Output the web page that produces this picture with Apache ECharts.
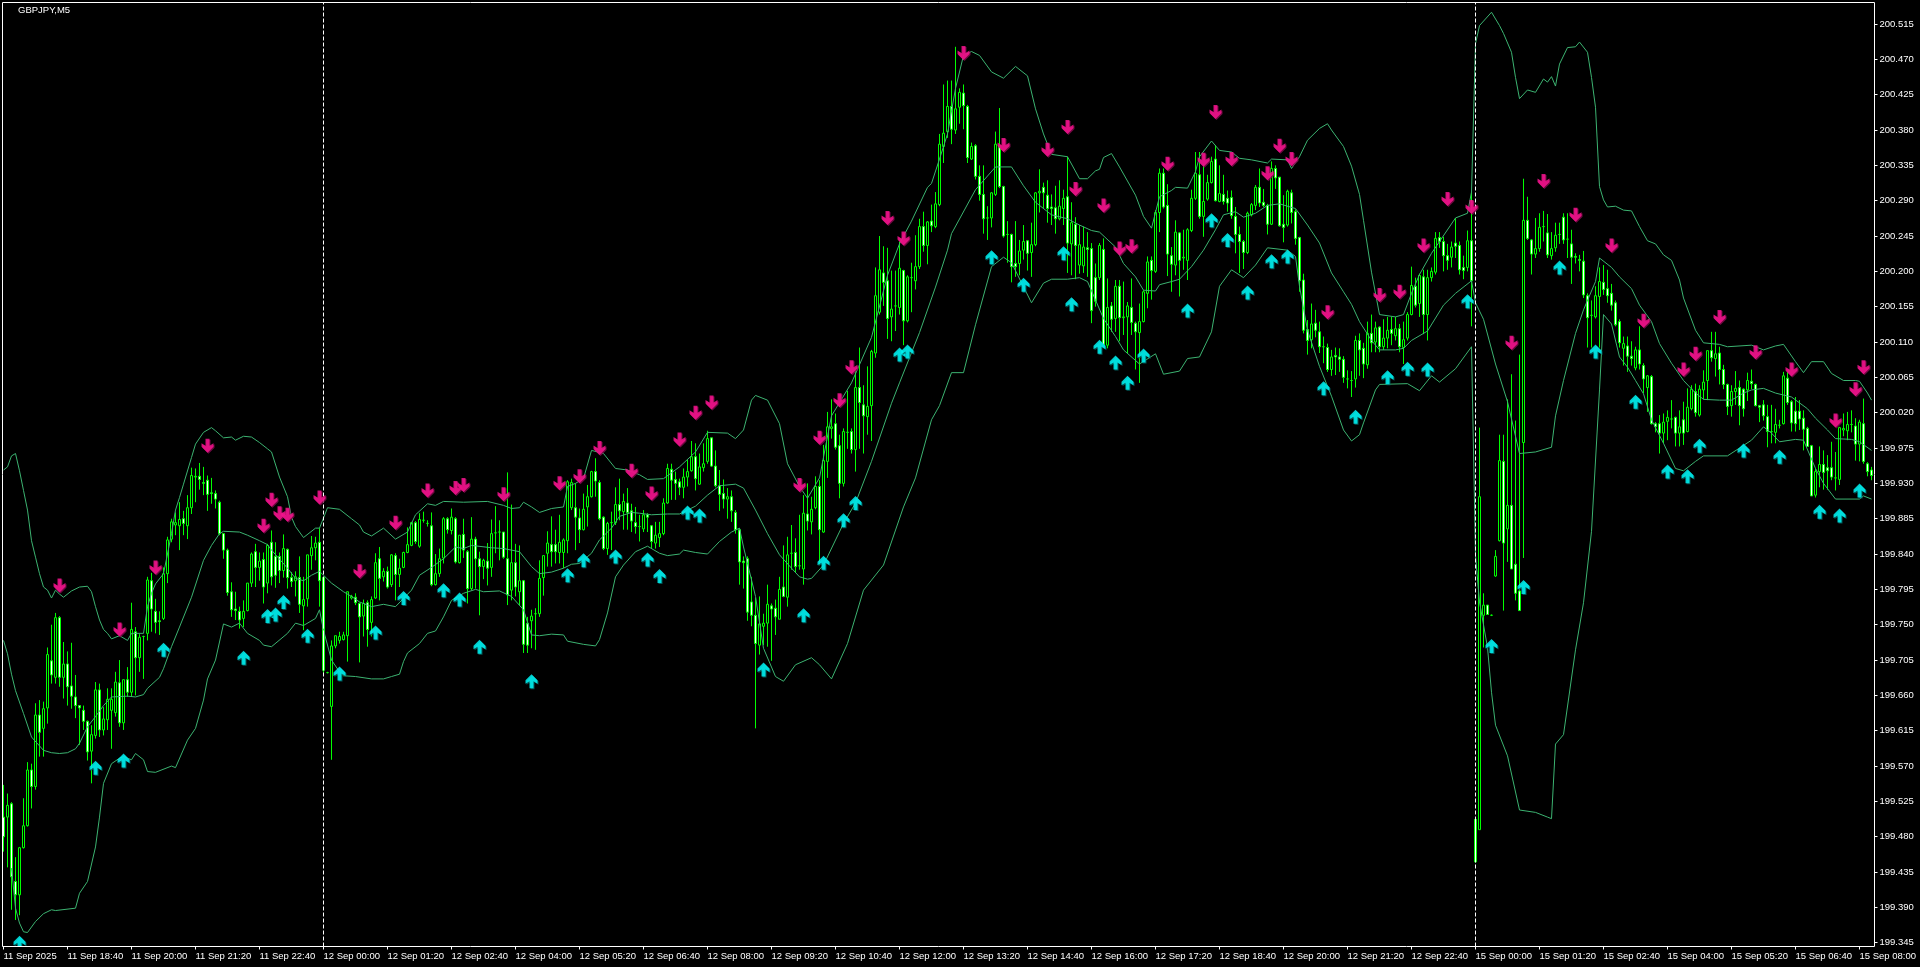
<!DOCTYPE html>
<html>
<head>
<meta charset="utf-8">
<style>html,body{margin:0;padding:0;background:#000}#c{width:1920px;height:967px}</style>
<script src="https://cdn.jsdelivr.net/npm/echarts@6/dist/echarts.min.js"></script>
</head>
<body>
<div id="c"></div>
<script>
const chartTitle = 'GBPJPY,M5';
const tickLabels = ['11 Sep 2025','11 Sep 18:40','11 Sep 20:00','11 Sep 21:20','11 Sep 22:40','12 Sep 00:00','12 Sep 01:20','12 Sep 02:40','12 Sep 04:00','12 Sep 05:20','12 Sep 06:40','12 Sep 08:00','12 Sep 09:20','12 Sep 10:40','12 Sep 12:00','12 Sep 13:20','12 Sep 14:40','12 Sep 16:00','12 Sep 17:20','12 Sep 18:40','12 Sep 20:00','12 Sep 21:20','12 Sep 22:40','15 Sep 00:00','15 Sep 01:20','15 Sep 02:40','15 Sep 04:00','15 Sep 05:20','15 Sep 06:40','15 Sep 08:00'];
const priceTicks = [200.515,200.470,200.425,200.380,200.335,200.290,200.245,200.200,200.155,200.110,200.065,200.020,199.975,199.930,199.885,199.840,199.795,199.750,199.705,199.660,199.615,199.570,199.525,199.480,199.435,199.390,199.345];
const priceMin = 199.3402, priceMax = 200.5424;
const separatorBars = [80, 368];
// Prices in thousandths above 199.000. Rows: [open, high, low, close]
const priceBase = 199;
const bars11Sep = [
[505,546,461,480],[505,535,441,520],[522,524,387,429],[423,454,374,406],[406,467,380,466],[466,529,465,494],[494,575,493,565],[565,573,516,544],[544,650,540,635],[635,654,582,613],
[618,652,582,643],[644,721,624,712],[704,750,675,686],[683,765,675,759],[759,761,671,683],[683,728,656,700],[700,716,647,671],[672,727,643,659],[658,686,631,647],[647,647,597,644],
[641,647,616,627],[627,628,577,588],[589,622,548,610],[609,677,605,667],[667,675,607,616],[616,645,609,630],[629,669,616,655],[641,669,592,655],[638,690,633,677],[676,705,620,625],
[625,680,616,680],[680,696,658,664],[664,778,658,744],[741,747,660,708],[708,738,690,734],[735,736,681,735],[739,811,730,807],[806,816,741,770],[767,783,739,753],[755,767,737,754],
[758,823,756,815],[815,862,803,858],[859,885,855,881],[877,893,864,880],[876,906,845,884],[885,895,864,879],[876,915,859,899],[899,950,891,940],[938,949,906,939],[939,956,922,935],
[931,951,915,930],[934,940,895,916],[918,937,904,917],[917,921,898,910],[906,908,864,866],[866,866,834,845],[845,847,787,791],[792,804,760,769],[770,792,756,768],[767,773,745,756],
[758,781,747,767],[768,803,767,803],[803,842,798,840],[843,853,798,823],[823,842,806,831],[833,842,777,798],[803,853,790,851],[855,870,800,811],[837,855,797,813],[837,842,803,819],
[819,865,810,847],[846,847,796,810],[810,817,798,805],[806,818,786,811],[810,837,765,776],[774,811,743,782],[783,839,773,839],[838,863,820,848],[848,862,832,854],[855,873,773,806]];
const bars12SepMorning = [
[810,811,686,692],[689,690,688,689],[646,730,578,723],[723,736,720,736],[730,741,726,735],[731,741,730,737],[736,792,703,792],[784,788,782,786],[785,790,775,778],[777,778,702,760],
[761,782,735,777],[778,781,722,744],[753,786,735,782],[784,841,783,829],[834,849,781,809],[811,822,805,818],[818,824,796,798],[801,840,798,839],[838,841,781,814],[814,834,798,822],
[823,843,822,842],[842,874,841,852],[851,881,850,880],[880,882,853,856],[850,892,848,884],[883,894,880,883],[879,883,875,879],[876,893,799,801],[801,840,800,815],[815,847,811,834],
[835,887,828,885],[885,887,866,871],[870,898,865,887],[885,887,828,830],[829,864,828,864],[865,885,835,845],[843,845,777,796],[796,887,794,859],[859,862,796,834],[834,843,762,824],
[824,834,808,832],[831,854,800,822],[823,884,811,866],[867,901,841,867],[868,883,832,868],[868,868,834,836],[834,944,775,788],[794,903,781,829],[829,853,786,798],[792,851,775,806],
[806,807,714,725],[752,760,714,724],[755,769,720,761],[764,771,718,764],[764,832,760,809],[810,838,787,838],[841,869,824,854],[852,888,824,843],[852,871,828,843],[842,890,828,855],
[842,860,822,858],[857,934,841,932],[899,936,896,931],[899,930,845,887],[886,898,854,871],[871,917,870,897],[900,928,875,913],[913,946,912,945],[945,962,913,933],[931,934,883,885],
[887,888,845,847],[847,881,839,879],[880,894,845,880],[880,925,877,903],[903,936,883,895],[894,917,871,907],[905,924,871,893],[895,904,868,882],[880,900,866,875],[875,890,856,875],
[872,896,868,890],[890,892,868,887],[876,877,847,856],[854,881,847,864],[861,881,849,866],[866,911,864,905],[905,955,904,949],[948,955,909,934],[935,945,909,930],[932,936,915,925],
[925,949,911,938],[938,960,926,945],[946,984,945,964],[964,981,921,936],[929,968,928,951],[950,981,945,955],[958,997,955,987],[988,988,951,952],[952,972,925,927],[927,947,895,916],
[917,935,898,910],[910,924,885,913],[913,921,881,895],[893,896,866,871],[871,873,801,830],[831,837,796,829],[834,837,755,766],[779,811,748,762],[762,784,618,726],[724,786,712,751],
[748,764,724,752],[752,801,722,776],[774,777,704,770],[771,782,737,760],[757,811,757,795],[798,851,785,786],[785,862,773,839],[841,877,820,841],[842,860,816,824],[825,890,820,825],
[821,915,801,892],[891,930,870,882],[881,913,865,897],[899,939,897,926],[926,934,826,871],[868,979,867,959],[958,1021,937,1002],[1000,1037,987,1002],[1006,1019,973,976],[978,992,911,930],
[930,1000,926,996],[995,1048,974,995],[996,1000,968,973],[973,1074,945,1052],[1052,1103,974,1033],[1030,1055,968,1016],[1015,1079,992,1028],[1029,1100,984,1098],[1096,1205,1090,1169],[1148,1245,1145,1202],
[1198,1232,1156,1186],[1188,1230,1114,1140],[1142,1201,1111,1152],[1156,1201,1124,1156]];
const bars12SepAfternoon = [
[1154,1238,1145,1204],[1201,1202,1106,1137],[1137,1195,1135,1193],[1192,1211,1148,1192],[1188,1246,1177,1206],[1206,1267,1203,1257],[1257,1276,1225,1233],[1233,1264,1209,1263],[1264,1285,1250,1258],[1257,1301,1255,1286],
[1285,1375,1283,1362],[1359,1438,1338,1376],[1378,1443,1370,1410],[1410,1443,1362,1381],[1380,1486,1375,1407],[1409,1433,1388,1428],[1427,1438,1381,1411],[1410,1412,1338,1345],[1343,1364,1342,1359],[1360,1362,1317,1321],
[1321,1335,1290,1298],[1298,1335,1248,1267],[1268,1283,1240,1268],[1268,1301,1256,1300],[1298,1378,1296,1362],[1360,1408,1306,1308],[1308,1309,1243,1245],[1247,1264,1211,1247],[1247,1248,1186,1206],[1210,1264,1193,1206],
[1210,1240,1195,1226],[1227,1259,1215,1238],[1239,1240,1201,1223],[1224,1262,1193,1234],[1234,1301,1232,1300],[1300,1330,1275,1302],[1307,1313,1280,1300],[1297,1316,1262,1280],[1282,1298,1259,1280],[1281,1309,1248,1267],
[1267,1316,1265,1283],[1280,1304,1259,1293],[1295,1346,1198,1236],[1235,1288,1195,1262],[1260,1269,1190,1233],[1208,1259,1197,1234],[1207,1257,1198,1231],[1230,1250,1193,1228],[1229,1236,1134,1150],[1192,1210,1155,1162],
[1192,1236,1189,1233],[1228,1242,1104,1106],[1106,1191,1102,1154],[1156,1161,1123,1139],[1140,1189,1123,1181],[1181,1189,1111,1141],[1141,1187,1119,1142],[1142,1161,1096,1156],[1154,1191,1119,1135],[1134,1136,1075,1123],
[1122,1159,1058,1136],[1136,1176,1135,1174],[1172,1219,1153,1212],[1214,1219,1164,1201],[1200,1278,1198,1275],[1275,1331,1250,1325],[1325,1331,1280,1282],[1284,1311,1194,1222],[1220,1231,1174,1209],[1208,1265,1195,1250],
[1249,1250,1168,1214],[1217,1253,1202,1218],[1214,1255,1189,1253],[1252,1304,1250,1293],[1293,1352,1291,1325],[1323,1352,1267,1270],[1270,1337,1244,1289],[1292,1323,1290,1313],[1313,1346,1312,1340],[1343,1361,1289,1290],
[1289,1335,1288,1299],[1298,1323,1285,1289],[1293,1303,1276,1287],[1294,1303,1267,1271],[1270,1282,1223,1247],[1247,1257,1198,1238],[1238,1240,1203,1224],[1224,1276,1222,1274],[1272,1287,1270,1285],[1284,1310,1278,1307],
[1307,1331,1282,1287],[1288,1305,1282,1284],[1284,1286,1247,1260],[1260,1340,1259,1331],[1331,1335,1305,1319],[1320,1320,1257,1258],[1260,1297,1237,1256],[1259,1304,1257,1302],[1300,1304,1261,1275],[1276,1279,1234,1242],
[1243,1244,1174,1188],[1189,1197,1121,1125],[1126,1138,1094,1112],[1113,1159,1102,1133],[1134,1151,1116,1125],[1123,1136,1096,1104],[1104,1117,1083,1104],[1103,1108,1072,1075],[1075,1100,1067,1091],[1093,1103,1068,1091],
[1091,1102,1072,1088],[1088,1092,1058,1065],[1063,1074,1051,1063],[1061,1073,1040,1061],[1063,1118,1052,1112],[1112,1121,1067,1100],[1102,1109,1064,1082],[1081,1136,1076,1121],[1121,1145,1097,1109],[1110,1136,1097,1128],
[1129,1130,1097,1104],[1104,1139,1100,1115],[1115,1142,1102,1125],[1126,1142,1106,1121],[1118,1142,1112,1127],[1127,1133,1097,1104],[1103,1136,1082,1113],[1115,1148,1112,1145],[1145,1206,1144,1182],[1181,1192,1154,1157],
[1159,1197,1142,1195],[1193,1202,1120,1145],[1145,1202,1112,1192],[1192,1205,1187,1200],[1199,1250,1196,1242],[1243,1250,1230,1238],[1238,1244,1200,1220],[1220,1235,1202,1214],[1218,1238,1205,1231],[1236,1268,1217,1232],
[1233,1238,1196,1202],[1205,1220,1190,1201],[1205,1252,1200,1239],[1239,1301,1130,1188]];
const bars15Sep = [
[502,503,447,448],[489,1001,489,913],[762,790,721,775],[775,775,763,763],[762,763,761,762],[812,845,811,837],[857,992,856,959],[958,992,768,854],[872,1037,830,902],[902,1069,821,821],
[827,1010,781,790],[793,1094,768,768],[982,1318,835,1265],[1265,1295,1240,1242],[1240,1241,1196,1222],[1222,1268,1217,1229],[1229,1274,1225,1256],[1257,1277,1238,1257],[1249,1273,1217,1221],[1220,1250,1215,1229],
[1230,1262,1225,1246],[1247,1262,1235,1247],[1269,1274,1235,1240],[1241,1274,1217,1241],[1235,1253,1184,1218],[1219,1223,1210,1218],[1215,1221,1200,1214],[1213,1226,1166,1170],[1169,1172,1103,1141],[1144,1163,1103,1144],
[1142,1181,1140,1169],[1168,1205,1103,1187],[1186,1208,1170,1177],[1178,1202,1160,1169],[1172,1184,1150,1157],[1160,1163,1130,1132],[1136,1139,1103,1109],[1102,1117,1080,1108],[1105,1117,1072,1092],[1092,1111,1080,1089],
[1077,1104,1074,1100],[1100,1130,1075,1082],[1080,1083,1045,1063],[1052,1068,1021,1067],[1066,1068,1005,1006],[1006,1008,995,1002],[1006,1017,968,994],[994,1019,981,1008],[1009,1023,985,1014],[1012,1036,1000,1012],
[1014,1015,977,994],[994,1023,977,1002],[1011,1034,979,994],[996,1051,995,1027],[1025,1055,1023,1050],[1047,1057,1015,1020],[1017,1055,1015,1050],[1049,1074,1037,1059],[1061,1099,1036,1099],[1099,1123,1085,1090],
[1089,1123,1066,1095],[1096,1104,1056,1075],[1075,1081,1050,1056],[1056,1057,1017,1028],[1029,1055,1015,1047],[1047,1073,1030,1051],[1052,1061,1004,1029],[1050,1051,1015,1025],[1049,1071,1035,1061],[1060,1075,1050,1057],
[1056,1057,1028,1029],[1029,1030,1008,1027],[1030,1036,1010,1016],[1015,1030,976,996],[996,1030,981,996],[995,1025,981,1005],[1004,1011,1000,1004],[1006,1072,1005,1067],[1064,1072,1030,1033],[1034,1036,996,1007],
[1022,1040,996,1006],[1022,1036,998,1012],[1013,1023,972,999],[1000,1002,977,977],[978,979,914,914],[915,949,912,945],[945,977,925,954],[954,972,922,944],[950,966,922,946],[950,983,934,938],
[937,970,921,937],[935,1002,928,1001],[998,1019,990,1000],[997,1021,985,1005],[1005,1023,995,1005],[1003,1013,959,980],[980,1011,958,1008],[1006,1038,955,958],[955,957,939,945],[947,951,934,940]];
// Bollinger bands read at sampled bars: [bar, thousandths above 199]
const upperBand = [[0,947],[1,951],[2,965],[3,968],[4,946],[5,921],[6,896],[7,857],[8,836],[9,815],[10,798],[11,794],[12,784],[13,794],[14,789],[15,785],[17,793],[19,798],[21,799],[22,792],[23,773],[24,756],[25,744],[26,739],[27,732],[29,736],[31,730],[32,739],[35,739],[36,773],[37,790],[38,802],[40,815],[41,840],[42,866],[43,896],[44,912],[45,929],[47,963],[48,980],[50,995],[52,1001],[53,997],[55,988],[57,989],[58,985],[60,990],[62,989],[64,982],[66,974],[67,970],[69,938],[71,913],[72,887],[73,875],[75,861],[78,873],[79,873],[81,899],[84,897],[87,885],[89,877],[90,868],[92,863],[95,873],[98,859],[101,868],[103,890],[106,904],[108,902],[110,907],[115,906],[121,907],[125,902],[127,898],[129,899],[130,906],[132,900],[134,893],[137,898],[140,900],[141,926],[143,930],[145,936],[147,972],[150,968],[153,949],[156,947],[159,941],[161,935],[165,936],[169,951],[173,970],[176,995],[181,994],[183,987],[185,998],[187,1036],[188,1042],[191,1036],[194,1006],[196,955],[199,926],[201,911],[204,937],[207,1016],[212,1058],[217,1116],[221,1195],[224,1235],[227,1264],[231,1307],[232,1312],[234,1343],[236,1375],[238,1433],[240,1475],[242,1480],[244,1475],[247,1454],[250,1446],[253,1461],[256,1449],[258,1407],[260,1375],[262,1349],[266,1346],[269,1318],[271,1318],[273,1328],[274,1330],[275,1345],[277,1350],[279,1333],[283,1297],[285,1270],[287,1255],[289,1295],[292,1303],[293,1307],[296,1306],[298,1327],[299,1346],[302,1366],[304,1354],[307,1352],[309,1344],[312,1342],[316,1338],[317,1343],[321,1342],[322,1331],[324,1346],[326,1367],[329,1382],[331,1388],[332,1380],[335,1359],[337,1334],[339,1298],[340,1265],[342,1199],[344,1145],[348,1142],[350,1145],[352,1172],[354,1196],[357,1223],[359,1238],[363,1268],[366,1274],[367,1301],[368,1490],[369,1513],[372,1530],[374,1513],[375,1503],[377,1479],[378,1447],[379,1420],[381,1431],[383,1428],[385,1445],[386,1441],[387,1448],[388,1436],[389,1464],[391,1485],[393,1486],[394,1492],[396,1479],[397,1447],[398,1409],[399,1308],[400,1291],[401,1282],[403,1283],[405,1278],[407,1277],[409,1257],[411,1239],[413,1235],[415,1221],[417,1214],[419,1189],[420,1166],[423,1125],[425,1109],[429,1107],[431,1104],[437,1106],[440,1100],[443,1105],[445,1107],[448,1085],[450,1071],[452,1085],[455,1085],[457,1070],[460,1061],[463,1061],[464,1060],[466,1045],[467,1036]];
const middleBand = [[0,730],[1,713],[2,687],[3,666],[5,637],[7,607],[10,590],[12,587],[14,586],[16,587],[18,592],[19,599],[21,620],[23,633],[25,647],[27,658],[31,659],[33,658],[35,661],[36,669],[39,683],[40,694],[42,722],[44,747],[47,785],[50,832],[52,851],[54,866],[55,869],[59,868],[61,864],[64,857],[66,852],[67,845],[71,822],[73,809],[75,806],[77,813],[79,818],[80,813],[82,803],[85,792],[87,786],[89,779],[92,773],[95,776],[98,773],[102,794],[104,813],[107,823],[110,834],[113,849],[115,847],[117,851],[122,848],[125,847],[129,843],[132,824],[134,815],[137,817],[140,822],[142,827],[144,828],[147,841],[149,858],[152,873],[154,888],[157,893],[159,892],[162,890],[166,891],[169,891],[173,901],[176,915],[179,927],[183,929],[185,924],[188,896],[191,866],[194,839],[197,822],[199,811],[201,808],[202,809],[205,826],[210,879],[213,905],[217,958],[222,1032],[224,1058],[229,1122],[233,1180],[236,1227],[237,1248],[243,1304],[248,1333],[252,1333],[255,1309],[258,1288],[262,1272],[266,1267],[269,1259],[272,1252],[274,1250],[278,1231],[280,1210],[283,1193],[285,1176],[288,1175],[289,1183],[292,1187],[294,1190],[297,1206],[300,1227],[303,1253],[305,1272],[308,1276],[310,1269],[313,1274],[316,1284],[319,1286],[323,1280],[326,1259],[329,1236],[332,1198],[335,1174],[337,1158],[339,1136],[342,1112],[344,1100],[348,1100],[350,1102],[352,1112],[356,1124],[360,1157],[363,1172],[367,1188],[368,1160],[370,1139],[373,1082],[376,1034],[379,968],[383,970],[387,976],[388,1016],[390,1061],[393,1121],[395,1151],[398,1187],[399,1217],[402,1205],[404,1193],[407,1178],[409,1157],[412,1136],[414,1108],[417,1083],[420,1061],[423,1045],[425,1037],[429,1036],[432,1036],[435,1045],[437,1049],[440,1051],[443,1045],[447,1040],[451,1025],[453,1013],[456,998],[458,987],[462,986],[464,983],[467,972]];
const lowerBand = [[2,440],[3,389],[4,370],[5,359],[6,358],[8,372],[10,382],[12,387],[13,386],[18,389],[19,408],[21,423],[23,467],[24,505],[25,548],[27,573],[29,580],[30,582],[32,578],[33,586],[35,578],[36,563],[38,562],[42,570],[43,568],[46,603],[48,618],[50,654],[51,681],[53,705],[55,751],[57,747],[59,752],[61,739],[64,730],[65,724],[67,722],[71,739],[73,752],[75,749],[78,758],[79,769],[80,743],[82,705],[84,690],[85,685],[88,684],[92,681],[95,681],[97,684],[99,687],[100,703],[101,714],[104,726],[106,739],[108,742],[110,760],[112,781],[115,790],[118,795],[120,792],[124,793],[127,786],[130,769],[132,737],[134,736],[137,738],[140,737],[141,729],[145,725],[148,723],[149,731],[151,765],[153,811],[155,826],[158,843],[161,850],[164,841],[166,838],[169,840],[170,845],[173,842],[176,840],[179,856],[182,868],[184,873],[185,849],[188,786],[190,720],[193,684],[195,678],[198,699],[202,708],[204,699],[207,681],[211,726],[215,794],[220,826],[225,900],[228,937],[232,1011],[234,1029],[237,1071],[240,1071],[243,1132],[247,1206],[250,1218],[252,1211],[257,1160],[260,1185],[262,1190],[266,1190],[269,1192],[271,1187],[275,1140],[278,1117],[280,1100],[284,1082],[288,1095],[290,1069],[294,1073],[296,1089],[299,1091],[302,1123],[304,1181],[307,1202],[310,1192],[313,1208],[316,1230],[321,1227],[323,1219],[324,1181],[326,1125],[329,1079],[332,1041],[335,998],[337,984],[339,992],[340,1007],[343,1049],[344,1056],[351,1057],[354,1048],[357,1067],[359,1059],[363,1076],[367,1104],[368,838],[369,779],[371,721],[372,664],[373,622],[376,583],[379,514],[383,511],[386,505],[387,503],[388,598],[390,610],[393,718],[395,778],[397,869],[399,1049],[400,1145],[402,1133],[404,1091],[406,1078],[408,1061],[410,1044],[412,1011],[415,981],[418,949],[420,946],[423,958],[425,965],[431,965],[434,975],[437,985],[440,1002],[442,994],[444,983],[448,986],[450,985],[453,949],[455,930],[458,910],[464,910],[465,914],[467,910]];
// Arrow signals: [bar, thousandths above 199]
const upArrows = [[4,345],[23,568],[30,577],[40,718],[60,708],[66,761],[68,763],[70,779],[76,736],[84,688],[93,740],[100,784],[110,794],[114,782],[119,722],[132,678],[141,813],[145,832],[153,837],[161,833],[164,812],[171,893],[174,889],[190,693],[200,762],[205,829],[210,883],[213,905],[224,1094],[226,1098],[247,1218],[255,1183],[265,1223],[267,1158],[274,1104],[278,1084],[281,1058],[285,1093],[296,1150],[302,1265],[306,1240],[311,1173],[317,1213],[321,1219],[330,1051],[338,1015],[346,1065],[351,1076],[356,1075],[366,1162],[372,723],[380,798],[389,1205],[398,1098],[408,1034],[416,945],[421,939],[424,978],[435,972],[444,964],[454,894],[459,889],[464,921]];
const downArrows = [[14,800],[29,744],[38,823],[51,978],[65,876],[67,909],[69,892],[71,890],[79,912],[89,818],[98,880],[106,921],[113,924],[115,928],[125,916],[139,930],[144,939],[149,975],[157,946],[162,917],[169,986],[173,1020],[177,1033],[199,928],[204,988],[209,1036],[212,1078],[221,1268],[225,1242],[240,1478],[250,1361],[261,1355],[266,1384],[268,1305],[275,1284],[279,1229],[282,1232],[291,1337],[300,1342],[303,1403],[307,1343],[316,1325],[319,1360],[322,1343],[331,1148],[344,1170],[349,1174],[355,1233],[361,1292],[367,1282],[377,1109],[385,1315],[393,1272],[402,1233],[410,1137],[420,1075],[423,1095],[429,1142],[438,1097],[447,1075],[458,1010],[463,1050],[465,1078]];

const toPrice = v => priceBase + v / 1000;
const bars = bars11Sep.concat(bars12SepMorning, bars12SepAfternoon, bars15Sep);
if (bars.length !== 468) throw new Error('bars: ' + bars.length);
const categories = bars.map((_, i) => tickLabels[i / 16] !== undefined ? tickLabels[i / 16] : 'b' + i);
const tickBars = tickLabels.map((_, k) => k * 16);
const candleData = bars.map(b => [toPrice(b[0]), toPrice(b[3]), toPrice(b[2]), toPrice(b[1])]);
const pairData = a => a.map(p => [p[0], toPrice(p[1])]);
const bandStyle = name => ({type:'line', name, data:pairData(name==='upper'?upperBand:name==='middle'?middleBand:lowerBand), showSymbol:false, symbol:'none', smooth:false, lineStyle:{color:'#3CB371', width:1}, z:3, silent:true, animation:false});
const upPath = 'path://M6 0 L12 6 L12 9.5 L8 7 L8 14 L4 14 L4 7 L0 9.5 L0 6 Z';
const downPath = 'path://M4 0 L8 0 L8 7 L12 4.5 L12 8 L6 14 L0 8 L0 4.5 L4 7 Z';
const font = "'Liberation Sans',sans-serif";

const chart = echarts.init(document.getElementById('c'), null, {renderer:'canvas'});
chart.setOption({
  animation:false,
  backgroundColor:'#000',
  title:{text:chartTitle, left:13, top:0.5, textStyle:{color:'#fff', fontSize:9.5, fontWeight:'normal', fontFamily:font}},
  grid:{left:1.5, top:2.5, width:1872, height:944, containLabel:false},
  xAxis:{type:'category', data:categories,
    axisLine:{show:false},
    axisTick:{show:true, customValues:tickBars, alignWithLabel:true, length:3, lineStyle:{color:'#fff'}},
    axisLabel:{show:true, customValues:tickBars, align:'left', margin:5, color:'#fff', fontSize:9.5, fontFamily:font, hideOverlap:false, showMinLabel:true, showMaxLabel:true},
    splitLine:{show:false}},
  yAxis:{type:'value', position:'right', offset:1, min:priceMin, max:priceMax, scale:true,
    axisLine:{show:false},
    axisTick:{show:true, length:3, lineStyle:{color:'#fff'}, customValues:priceTicks},
    axisLabel:{show:true, margin:5, color:'#fff', fontSize:9.5, fontFamily:font, customValues:priceTicks, formatter:v=>v.toFixed(3), showMinLabel:true, showMaxLabel:true},
    splitLine:{show:false}},
  series:[
    {type:'candlestick', data:candleData, barWidth:2, z:2,
      itemStyle:{color:'#000', color0:'#fff', borderColor:'#00ff00', borderColor0:'#00ff00', borderWidth:1},
      markLine:{silent:true, symbol:'none', label:{show:false}, lineStyle:{color:'#fff', type:[4,2], width:1}, data:separatorBars.map(b=>({xAxis:b})), animation:false}},
    bandStyle('upper'), bandStyle('middle'), bandStyle('lower'),
    {type:'scatter', name:'up', data:pairData(upArrows), symbol:upPath, symbolSize:[12,14], itemStyle:{color:'#00ffff', shadowColor:'#006a6a', shadowOffsetX:1, shadowOffsetY:1, shadowBlur:0}, z:5, clip:false},
    {type:'scatter', name:'down', data:pairData(downArrows), symbol:downPath, symbolSize:[12,14], itemStyle:{color:'#ff1493', shadowColor:'#8a0a50', shadowOffsetX:1, shadowOffsetY:1, shadowBlur:0}, z:5, clip:false}
  ],
  graphic:[
    {type:'rect', silent:true, z:100, shape:{x:2.5, y:2.5, width:1872, height:944}, style:{fill:'transparent', stroke:'#fff', lineWidth:1}},
    {type:'rect', silent:true, z:90, shape:{x:10, y:947, width:20, height:5}, style:{fill:'#000'}}
  ]
});
</script>
</body>
</html>
